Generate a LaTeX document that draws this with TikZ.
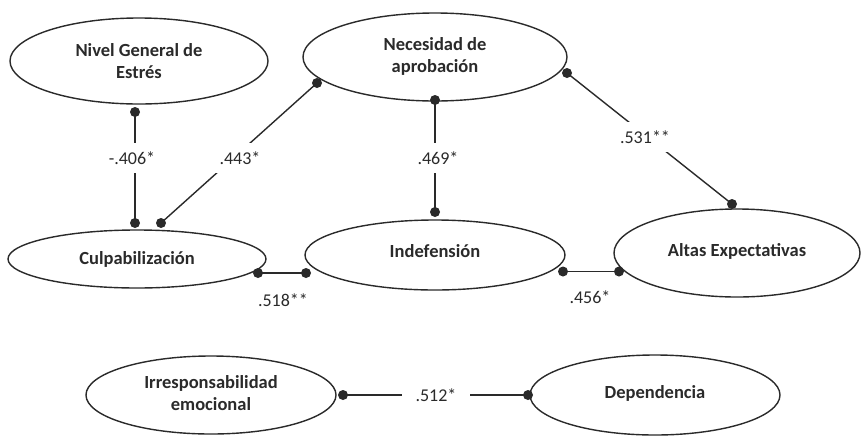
\documentclass[tikz,border=0pt]{standalone}
\usepackage{fontspec}
\setmainfont{Carlito}
\usetikzlibrary{shapes.geometric}
\definecolor{ink}{HTML}{2A2A2A}
\begin{document}
\begin{tikzpicture}[x=1pt,y=-1pt,
  var/.style={draw=ink, line width=1.4pt, ellipse, inner sep=0pt, align=center,
    font=\fontsize{18.5}{22}\selectfont\bfseries, text=ink},
  conn/.style={draw=ink, line width=1.4pt},
  dotc/.style={fill=ink},
  coef/.style={font=\fontsize{18}{20}\selectfont, text=ink, fill=white, inner sep=9pt},
  coefb/.style={font=\fontsize{18}{20}\selectfont, text=ink, inner sep=1pt}
]
\useasboundingbox[fill=white] (0,0) rectangle (862,437);

% variables
\node[var, minimum width=258pt, minimum height=86pt] (nivel) at (139,61) {Nivel General de\\Estrés};
\node[var, minimum width=264pt, minimum height=88pt] (neces) at (435,57) {\raisebox{3pt}{\begin{tabular}{@{}c@{}}Necesidad de\\aprobación\end{tabular}}};
\node[var, minimum width=258pt, minimum height=58pt] (culp) at (137,259) {Culpabilización};
\node[var, minimum width=260pt, minimum height=70pt] (indef) at (435,255) {\raisebox{7pt}{Indefensión}};
\node[var, minimum width=246pt, minimum height=88pt] (altas) at (737,253) {\raisebox{7pt}{Altas Expectativas}};
\node[var, minimum width=250pt, minimum height=78pt] (irresp) at (211,395) {\raisebox{-4pt}{\begin{tabular}{@{}c@{}}Irresponsabilidad\\emocional\end{tabular}}};
\node[var, minimum width=250pt, minimum height=80pt] (depend) at (655,395) {\raisebox{6pt}{Dependencia}};

% connector end points (dots)
\coordinate (d1a) at (135,112); \coordinate (d1b) at (135,223);
\coordinate (d2a) at (161,223); \coordinate (d2b) at (317,83);
\coordinate (d3a) at (435,100); \coordinate (d3b) at (435,212);
\coordinate (d4a) at (567,73);  \coordinate (d4b) at (732,204);
\coordinate (d5a) at (258,273); \coordinate (d5b) at (306,273);
\coordinate (d6a) at (563,271.5); \coordinate (d6b) at (619,271.5);
\coordinate (d7a) at (343,395); \coordinate (d7b) at (528,395);

% connectors
\draw[conn] (d1a) -- (d1b);
\draw[conn] (d2a) -- (d2b);
\draw[conn] (d3a) -- (d3b);
\draw[conn] (d4a) -- (d4b);
\draw[conn] (d5a) -- (d5b);
\draw[conn] (d6a) -- (d6b);
\draw[conn] (d7a) -- (d7b);

\foreach \p in {d1a,d1b,d2a,d2b,d3a,d3b,d4a,d4b,d5a,d5b,d6a,d6b,d7a,d7b}
  \fill[dotc] (\p) circle (5pt);

% coefficients
\node[coef] (c1) at (132,158) {-.406*};
\node[coef] (c2) at (240,158) {.443*};
\node[coef] (c3) at (438,158) {.469*};
\node[coef] (c4) at (645,137) {.531**};
\node[coefb] (c5) at (283,300) {.518**};
\node[coefb] (c6) at (590,297) {.456*};
\node[coef, inner xsep=14pt] (c7) at (436,395) {.512*};
\end{tikzpicture}
\end{document}
